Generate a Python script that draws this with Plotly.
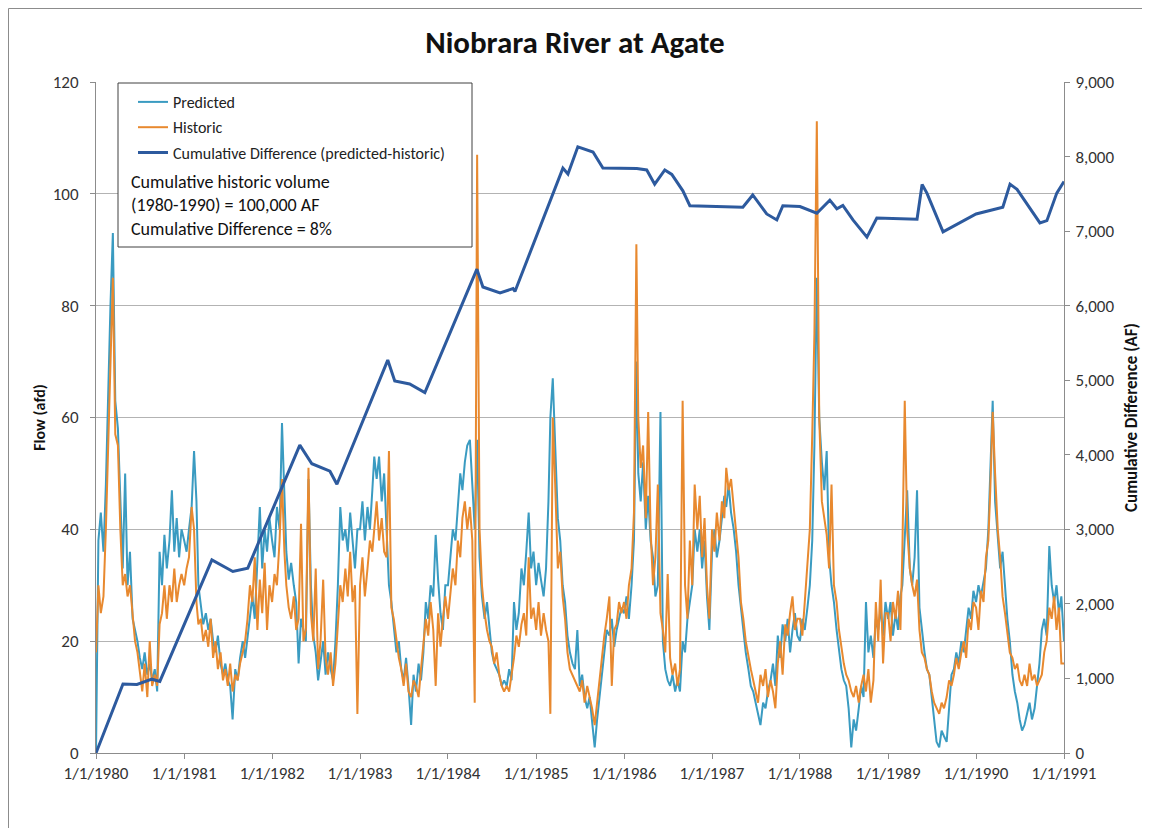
import pandas as pd
import plotly.graph_objects as go

# flow samples on the 1st, 11th and 21st of each month, 1980-1990, plus 1/1/1991
predicted = [
    0, 38, 43, 36, 48, 67, 80, 93, 63, 58, 45, 33, 50, 30, 36, 24, 22, 20,
    17, 15, 18, 14, 16, 13, 15, 11, 36, 30, 39, 33, 38, 47, 36, 42, 35, 40,  # 1980
    38, 36, 40, 44, 54, 45, 30, 26, 23, 25, 22, 24, 20, 18, 21, 16, 14, 16,
    13, 12, 6, 15, 13, 17, 20, 17, 21, 25, 28, 24, 35, 44, 33, 40, 36, 42,  # 1981
    38, 35, 44, 40, 59, 46, 36, 31, 34, 30, 27, 16, 24, 22, 20, 49, 30, 21,
    18, 13, 16, 20, 14, 18, 15, 13, 20, 30, 44, 38, 40, 36, 43, 38, 33, 40,  # 1982
    40, 45, 38, 44, 40, 47, 53, 49, 53, 45, 50, 40, 30, 27, 22, 18, 20, 15,
    13, 17, 12, 5, 14, 11, 16, 13, 18, 27, 24, 30, 28, 39, 31, 25, 22, 30,  # 1983
    30, 35, 40, 38, 45, 50, 47, 52, 55, 56, 48, 40, 56, 35, 28, 24, 27, 22,
    18, 16, 15, 14, 12, 13, 12, 15, 13, 27, 22, 25, 33, 30, 36, 43, 33, 36,  # 1984
    30, 34, 31, 28, 33, 45, 60, 67, 55, 42, 38, 30, 27, 21, 18, 16, 15, 22,
    12, 14, 10, 8, 10, 6, 1, 6, 10, 13, 18, 22, 21, 24, 19, 22, 24, 26,  # 1985
    25, 28, 24, 30, 38, 70, 50, 45, 52, 40, 46, 38, 35, 28, 30, 61, 20, 15,
    13, 12, 14, 11, 13, 11, 20, 18, 24, 27, 30, 40, 36, 40, 33, 38, 28, 22,  # 1986
    36, 40, 35, 38, 42, 46, 44, 48, 43, 40, 36, 30, 26, 22, 18, 15, 12, 11,
    9, 7, 5, 9, 8, 11, 13, 16, 12, 21, 17, 23, 20, 24, 18, 22, 25, 21,  # 1987
    20, 24, 22, 26, 30, 38, 55, 85, 60, 52, 47, 54, 35, 30, 27, 22, 18, 15,
    13, 12, 8, 1, 6, 4, 8, 12, 10, 27, 18, 21, 17, 24, 22, 26, 21, 27,  # 1988
    24, 27, 21, 25, 22, 28, 30, 40, 47, 33, 30, 35, 47, 26, 22, 18, 15, 14,
    10, 6, 2, 1, 4, 3, 2, 8, 14, 15, 18, 16, 20, 18, 22, 26, 24, 29,  # 1989
    27, 30, 28, 31, 33, 40, 50, 63, 45, 38, 33, 36, 30, 24, 20, 14, 11, 9,
    6, 4, 5, 7, 9, 6, 8, 12, 16, 22, 24, 21, 37, 30, 27, 30, 25, 28,  # 1990
    20,
]
historic = [
    18, 30, 25, 28, 40, 57, 70, 85, 57, 55, 40, 30, 32, 28, 30, 25, 20, 18,
    14, 11, 16, 10, 20, 12, 14, 12, 23, 25, 30, 24, 30, 27, 33, 27, 30, 32,  # 1980
    30, 33, 35, 44, 40, 27, 23, 24, 20, 22, 19, 24, 17, 20, 15, 18, 13, 15,
    12, 16, 11, 14, 13, 16, 18, 20, 24, 30, 27, 35, 22, 31, 25, 34, 22, 30,  # 1981
    27, 32, 30, 38, 49, 36, 30, 26, 24, 28, 22, 24, 41, 20, 22, 51, 25, 20,
    33, 15, 20, 31, 17, 14, 18, 12, 16, 24, 30, 27, 33, 28, 36, 27, 30, 7,  # 1982
    30, 35, 28, 33, 38, 36, 40, 45, 38, 42, 36, 35, 54, 26, 24, 20, 17, 15,
    12, 16, 11, 10, 13, 12, 10, 15, 20, 24, 21, 27, 22, 12, 25, 19, 24, 28,  # 1983
    24, 28, 33, 30, 38, 35, 42, 45, 40, 44, 38, 9, 107, 40, 30, 25, 22, 20,
    19, 16, 18, 14, 12, 11, 12, 11, 14, 17, 21, 19, 23, 25, 21, 35, 24, 26,  # 1984
    22, 27, 21, 25, 22, 20, 7, 60, 48, 33, 36, 28, 24, 18, 15, 14, 13, 12,
    11, 13, 9, 12, 10, 8, 5, 9, 14, 17, 21, 24, 28, 12, 22, 23, 27, 25,  # 1985
    27, 24, 30, 33, 43, 91, 60, 51, 55, 42, 61, 40, 30, 35, 48, 25, 22, 18,
    32, 17, 14, 16, 12, 15, 63, 30, 24, 38, 30, 48, 40, 46, 35, 42, 30, 24,  # 1986
    40, 36, 43, 38, 45, 42, 51, 47, 49, 44, 39, 35, 27, 24, 20, 17, 15, 13,
    11, 9, 14, 12, 15, 10, 13, 11, 8, 16, 20, 14, 23, 21, 25, 28, 22, 24,  # 1987
    24, 21, 27, 33, 40, 57, 75, 113, 60, 45, 42, 39, 33, 48, 30, 27, 22, 19,
    16, 14, 13, 11, 10, 12, 9, 12, 14, 11, 15, 9, 13, 27, 20, 31, 16, 25,  # 1988
    25, 20, 27, 24, 29, 22, 36, 63, 40, 33, 30, 28, 31, 22, 18, 17, 15, 14,
    11, 9, 8, 7, 9, 8, 10, 13, 12, 14, 17, 15, 18, 20, 17, 24, 22, 27,  # 1989
    26, 22, 29, 27, 35, 38, 47, 61, 50, 40, 35, 28, 25, 21, 18, 17, 15, 16,
    13, 12, 14, 12, 16, 13, 14, 12, 13, 14, 18, 20, 26, 24, 28, 22, 26, 16,  # 1990
    16,
]

cum_dates = [
    "1980-01-01", "1980-04-22", "1980-06-19", "1980-08-20", "1980-09-22",
    "1981-04-26", "1981-07-22", "1981-09-22", "1982-04-26", "1982-06-15",
    "1982-08-29", "1982-09-27", "1983-04-26", "1983-05-25", "1983-07-26",
    "1983-09-27", "1984-04-30", "1984-05-25", "1984-08-04", "1984-09-27",
    "1984-10-05", "1985-04-22", "1985-05-13", "1985-06-23", "1985-08-25",
    "1985-10-05", "1986-02-23", "1986-04-05", "1986-05-08", "1986-05-29",
    "1986-06-19", "1986-07-18", "1986-09-02", "1986-10-01", "1987-04-26",
    "1987-05-09", "1987-06-19", "1987-08-16", "1987-09-27", "1987-10-22",
    "1988-01-01", "1988-03-11", "1988-05-04", "1988-06-02", "1988-06-27",
    "1988-08-08", "1988-10-05", "1988-11-15", "1989-05-01", "1989-05-22",
    "1989-06-11", "1989-08-17", "1990-01-01", "1990-04-22", "1990-05-22",
    "1990-06-20", "1990-09-23", "1990-10-22", "1990-12-02", "1991-01-01",
]
cum_diff = [
    0, 925, 920, 990, 960,
    2590, 2435, 2480, 4130, 3880,
    3780, 3605, 5270, 4990, 4950,
    4835, 6490, 6250, 6170, 6230,
    6190, 7845, 7765, 8130, 8060,
    7845, 7840, 7820, 7630, 7720,
    7820, 7760, 7540, 7340, 7330,
    7320, 7485, 7230, 7150, 7340,
    7330, 7240, 7415, 7300, 7345,
    7150, 6920, 7175, 7160, 7625,
    7510, 6990, 7230, 7320, 7630,
    7560, 7110, 7140, 7510, 7665,
]

year_ticks = [f"{y}-01-01" for y in range(1980, 1992)]
year_labels = [f"1/1/{y}" for y in range(1980, 1992)]

months = pd.date_range("1980-01-01", "1990-12-01", freq="MS")
dates = [m + pd.Timedelta(days=d) for m in months for d in (0, 10, 20)]
dates.append(pd.Timestamp("1991-01-01"))

FONT = "Carlito, Lato, sans-serif"
TEAL = "#3A9BC1"
ORANGE = "#E8892F"
BLUE = "#2D5A9E"

# page offset of the figure (body margin) and plot area in screen pixels
OFF = 8
L, R, T, B = 96, 1064, 82, 753
W, H = 1150 - 2 * OFF, 836 - 2 * OFF


def px(x):
    return (x - L) / (R - L)


def py(y):
    return (B - y) / (B - T)


fig = go.Figure()
fig.add_trace(go.Scatter(x=dates, y=predicted, name="Predicted", mode="lines",
                         line=dict(color=TEAL, width=2), legendgroup="a"))
fig.add_trace(go.Scatter(x=dates, y=historic, name="Historic", mode="lines",
                         line=dict(color=ORANGE, width=2), legendgroup="b"))
fig.add_trace(go.Scatter(x=cum_dates, y=cum_diff, yaxis="y2", mode="lines",
                         name="Cumulative Difference (predicted-historic)",
                         line=dict(color=BLUE, width=3), legendgroup="c"))

axis_common = dict(showline=True, linecolor="#8C8C8C", linewidth=1, ticks="outside",
                   tickcolor="#8C8C8C", ticklen=5,
                   tickfont=dict(family=FONT, size=17, color="#333333"))

fig.update_layout(
    width=W, height=H,
    margin=dict(l=L - OFF, r=W - (R - OFF), t=T - OFF, b=H - (B - OFF)),
    paper_bgcolor="white", plot_bgcolor="white",
    font=dict(family=FONT, color="#222222"),
    title=dict(text="<b>Niobrara River at Agate</b>", x=0.5, xanchor="center",
               y=1 - (42 - OFF) / H, yanchor="middle",
               font=dict(family=FONT, size=31, color="#111111")),
    xaxis=dict(type="date", range=["1980-01-01", "1991-01-01"], tickvals=year_ticks,
               ticktext=year_labels, showgrid=False, zeroline=False, **axis_common),
    yaxis=dict(range=[0, 120], dtick=20, showgrid=True, gridcolor="#B3B3B3", gridwidth=1,
               zeroline=False, automargin=False, ticklabelstandoff=8,
               title=dict(text="<b>Flow (afd)</b>", standoff=3,
                          font=dict(family=FONT, size=16, color="#111111")),
               **axis_common),
    yaxis2=dict(range=[0, 9000], dtick=1000, tickformat=",", overlaying="y", side="right",
                showgrid=False, zeroline=False, automargin=False, ticklabelstandoff=2,
                title=dict(text="<b>Cumulative Difference (AF)</b>", standoff=20,
                           font=dict(family=FONT, size=17, color="#111111")),
                **axis_common),
    legend=dict(x=px(133), y=py(85), xanchor="left", yanchor="top",
                bgcolor="rgba(0,0,0,0)", borderwidth=0, tracegroupgap=1.5,
                font=dict(family=FONT, size=16, color="#222222")),
    shapes=[
        dict(type="rect", xref="paper", yref="paper", x0=px(118), x1=px(472),
             y0=py(247), y1=py(83), line=dict(color="#404040", width=1),
             fillcolor="white", layer="above"),
        dict(type="rect", xref="paper", yref="paper", x0=px(OFF + 0.5), x1=px(1145),
             y0=py(845), y1=py(8.5), line=dict(color="#8C8C8C", width=1),
             fillcolor="rgba(0,0,0,0)", layer="above"),
    ],
)

note_lines = ["Cumulative historic volume", "(1980-1990) = 100,000 AF",
              "Cumulative Difference = 8%"]
for i, line in enumerate(note_lines):
    fig.add_annotation(text=line, xref="paper", yref="paper", x=px(129), y=py(182 + 23.5 * i),
                       xanchor="left", yanchor="middle", showarrow=False,
                       font=dict(family=FONT, size=18, color="#111111"))

fig.write_html("out.html")
